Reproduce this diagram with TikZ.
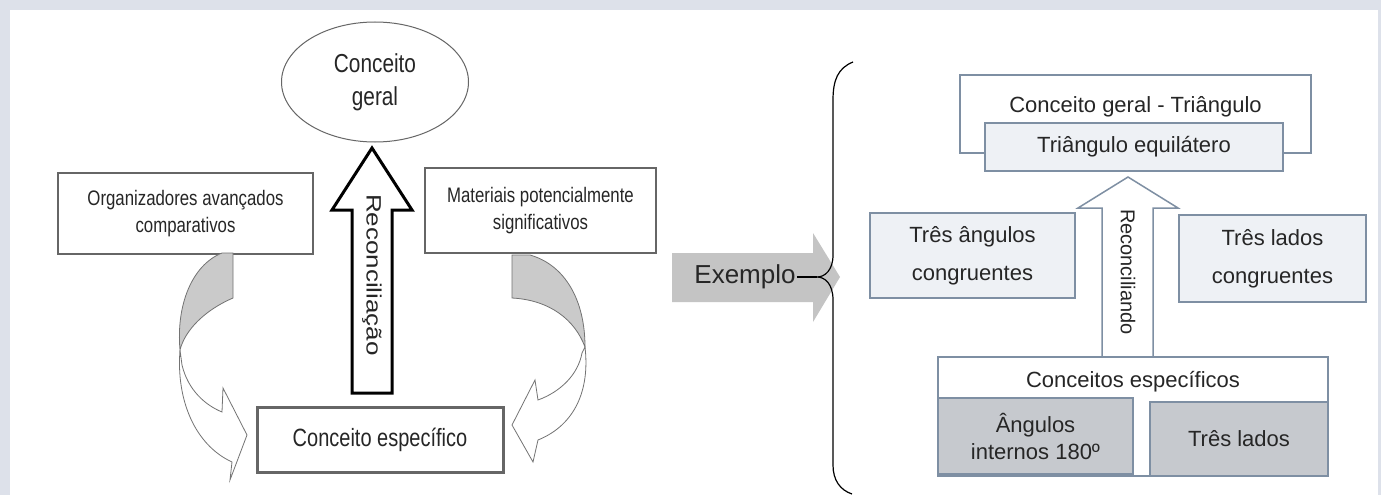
\documentclass[tikz,border=0pt]{standalone}
\usepackage{fontspec}
\usepackage{graphicx}
\setmainfont{Liberation Sans}
\newfontfamily\narrowsf[FakeStretch=0.8]{Liberation Sans}
\usetikzlibrary{shapes.geometric}

\definecolor{framegray}{HTML}{DDE1EA}
\definecolor{bluegray}{HTML}{7E8FA3}
\definecolor{lightfill}{HTML}{EEF1F5}
\definecolor{darkfill}{HTML}{C6C9CE}
\definecolor{arrowgray}{HTML}{C4C4C4}

\tikzset{
  leftbox/.style={draw=black!60, line width=1.5pt, align=center, text=black!85, inner sep=0pt},
  rightbox/.style={draw=bluegray, line width=1.5pt, align=center, text=black!85, inner sep=0pt},
  curvedgray/.style={fill=arrowgray!90, draw=black!55, line width=0.8pt},
  curvedwhite/.style={fill=white, draw=black!55, line width=0.8pt},
}

\begin{document}
\begin{tikzpicture}[x=1pt,y=-1pt]
\useasboundingbox (0,0) rectangle (1381,495);
\fill[framegray] (0,0) rectangle (1381,495);
\fill[white] (10,10) rectangle (1378,495);

% left: general and specific concept
\node[leftbox, ellipse, line width=1pt, minimum width=187pt, minimum height=120pt, font=\narrowsf\fontsize{26}{33}\selectfont] (geral) at (375,82) {Conceito\\geral};
\node[leftbox, minimum width=255pt, minimum height=81pt, font=\narrowsf\fontsize{21}{27}\selectfont] (organiz) at (185.5,213.5) {Organizadores avançados\\comparativos};
\node[leftbox, minimum width=231pt, minimum height=85pt, font=\narrowsf\fontsize{21}{27}\selectfont] (materiais) at (540.5,210.5) {Materiais potencialmente\\significativos};
\node[leftbox, line width=3pt, minimum width=246pt, minimum height=65pt, font=\narrowsf\fontsize{25}{30}\selectfont] (especifico) at (380,439.5) {Conceito específico};

\draw[line width=3pt, fill=white, line join=miter] (352,393)--(352,210)--(332,210)--(372,148)--(412,210)--(392,210)--(392,393)--cycle;
\node[rotate=-90, text=black!85, font=\fontsize{26}{30}\selectfont] (reconc) at (372,275) {\scalebox{1}[0.8]{Reconciliação}};

% curved arrows
\draw[curvedgray] (233,253)--(233,298) .. controls (205,310) and (185,330) .. (180,350) .. controls (176,305) and (192,265) .. (222,253)--cycle;
\draw[curvedwhite] (180,350) .. controls (176,400) and (195,445) .. (232,462)--(230,480)--(247,435)--(223,388)--(222,412) .. controls (205,405) and (188,390) .. (182,365)--cycle;
\draw[curvedgray] (512,255)--(530,255) .. controls (565,265) and (585,300) .. (585,347) .. controls (575,320) and (550,300) .. (512,298)--cycle;
\draw[curvedwhite] (585,347) .. controls (590,390) and (575,425) .. (538,440)--(533,462)--(512,425)--(535,380)--(538,400) .. controls (560,392) and (578,375) .. (582,353)--cycle;

% example
\fill[arrowgray] (672,253)--(813,253)--(813,233)--(840,277)--(813,322)--(813,302)--(672,302)--cycle;
\node[inner sep=1pt, text=black!85, font=\fontsize{26}{30}\selectfont] (exemplo) at (745,277) {Exemplo};
\coordinate (bracetip) at (817,277);
\draw[line width=1.2pt] (exemplo.east)--(bracetip);
\draw[line width=1.2pt] (853,62) .. controls (838,68) and (833,80) .. (833,100)--(833,255) .. controls (833,270) and (825,277) .. (bracetip) .. controls (825,277) and (833,284) .. (833,300)--(833,465) .. controls (833,480) and (840,490) .. (852,494);

% right: triangle
\node[rightbox, fill=white, minimum width=351pt, minimum height=78pt] (cgeral) at (1135.5,114) {};
\node[text=black!85, font=\fontsize{22}{26}\selectfont] (cgeraltxt) at (1135.5,107) {Conceito geral - Triângulo};
\node[rightbox, fill=lightfill, minimum width=298pt, minimum height=48pt, font=\fontsize{22}{26}\selectfont] (equil) at (1134,147) {Triângulo equilátero};

\draw[bluegray, line width=1.5pt, fill=white] (1102,357)--(1102,208)--(1078,208)--(1128,177)--(1178,208)--(1153,208)--(1153,357)--cycle;
\node[rotate=-90, text=black!85, font=\fontsize{20}{24}\selectfont] (reconcil) at (1128,272) {Reconciliando};

\node[rightbox, fill=lightfill, minimum width=205pt, minimum height=85pt, font=\fontsize{22}{38}\selectfont] (tresang) at (972.5,255.5) {Três ângulos\\congruentes};
\node[rightbox, fill=lightfill, minimum width=187pt, minimum height=87pt, font=\fontsize{22}{38}\selectfont] (treslad) at (1272.5,258.5) {Três lados\\congruentes};

\node[rightbox, fill=white, minimum width=390pt, minimum height=119pt] (cesp) at (1133,416.5) {};
\node[text=black!85, font=\fontsize{22}{26}\selectfont] (cesptxt) at (1133,382) {Conceitos específicos};
\node[rightbox, fill=darkfill, minimum width=195pt, minimum height=76pt, font=\fontsize{22}{27}\selectfont] (angint) at (1035.5,436) {Ângulos\\internos 180º};
\node[rightbox, fill=darkfill, minimum width=178pt, minimum height=74pt, font=\fontsize{22}{27}\selectfont] (lados) at (1239,439) {Três lados};

\end{tikzpicture}
\end{document}
